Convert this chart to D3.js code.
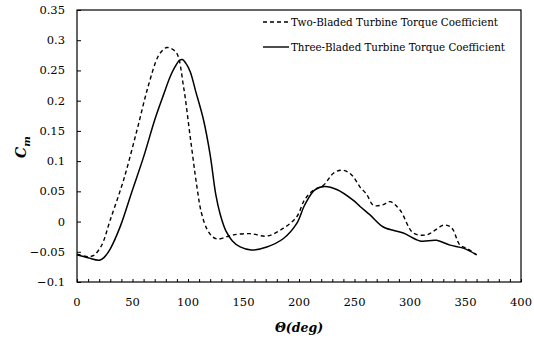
<!DOCTYPE html>
<meta charset="utf-8">
<title>Torque coefficient</title>
<style>
  body { margin: 0; background: #fff; }
  svg text { font-family: "DejaVu Serif", serif; fill: #000; }
</style>
<body>
<script src="https://d3js.org/d3.v7.min.js"></script>
<script>
// azimuth angle (deg) and Cm
const twoTheta = [0, 10, 15, 22, 30, 42, 54, 64, 73, 78, 81, 85, 90, 96, 102, 108, 112, 117, 122, 127, 135, 141, 156, 171, 186, 198, 205, 213, 222, 231, 238, 244, 249, 255, 261, 267, 276, 282, 291, 303, 315, 322, 330, 336, 339, 345, 352, 360];
const twoCm    = [-0.054, -0.058, -0.056, -0.04, 0.003, 0.069, 0.151, 0.223, 0.273, 0.285, 0.288, 0.286, 0.278, 0.223, 0.14, 0.058, 0.015, -0.012, -0.025, -0.029, -0.025, -0.022, -0.02, -0.024, -0.011, 0.008, 0.036, 0.052, 0.06, 0.08, 0.085, 0.082, 0.074, 0.057, 0.045, 0.027, 0.028, 0.033, 0.019, -0.019, -0.022, -0.015, -0.006, -0.008, -0.014, -0.039, -0.045, -0.055];

const threeTheta = [0, 10, 20, 24, 30, 39, 49, 60, 70, 78, 84, 88, 92, 95, 98, 102, 107, 114, 120, 125, 129, 134, 140, 147, 157, 171, 186, 198, 205, 214, 223, 234, 249, 255, 264, 276, 294, 309, 324, 336, 348, 360];
const threeCm    = [-0.055, -0.06, -0.064, -0.06, -0.045, -0.008, 0.047, 0.107, 0.168, 0.21, 0.24, 0.255, 0.266, 0.268, 0.262, 0.248, 0.215, 0.168, 0.11, 0.045, 0.012, -0.015, -0.032, -0.042, -0.047, -0.042, -0.028, -0.003, 0.027, 0.052, 0.058, 0.053, 0.035, 0.025, 0.011, -0.009, -0.019, -0.032, -0.031, -0.039, -0.044, -0.055];

const xTicks = [0, 50, 100, 150, 200, 250, 300, 350, 400];
const yTicks = [-0.1, -0.05, 0, 0.05, 0.1, 0.15, 0.2, 0.25, 0.3, 0.35];

const W = 534, H = 338;
const m = {left: 77, right: 13, top: 10, bottom: 56};

const svg = d3.select("body").append("svg")
    .attr("width", W).attr("height", H);

const x = d3.scaleLinear().domain([0, 400]).range([m.left, W - m.right]);
const y = d3.scaleLinear().domain([-0.1, 0.35]).range([H - m.bottom, m.top]);

// frame
svg.append("rect")
    .attr("x", x(0)).attr("y", y(0.35))
    .attr("width", x(400) - x(0)).attr("height", y(-0.1) - y(0.35))
    .attr("fill", "none").attr("stroke", "#000").attr("stroke-width", 1.2);

// x axis, minor ticks every 10 deg pointing up
const xAxis = d3.axisBottom(x).tickValues(d3.range(0, 401, 10))
    .tickSize(-3).tickFormat("");
svg.append("g").attr("transform", `translate(0,${y(-0.1)})`).call(xAxis)
  .call(g => g.select(".domain").remove())
  .call(g => g.selectAll("line").attr("stroke", "#000"));

svg.append("g").selectAll("text").data(xTicks).join("text")
    .attr("x", d => x(d)).attr("y", y(-0.1) + 24)
    .attr("text-anchor", "middle").attr("font-size", 11.5)
    .text(d => d);

// y axis, ticks inward
const yAxis = d3.axisLeft(y).tickValues(yTicks).tickSize(-4).tickFormat("");
svg.append("g").attr("transform", `translate(${x(0)},0)`).call(yAxis)
  .call(g => g.select(".domain").remove())
  .call(g => g.selectAll("line").attr("stroke", "#000"));

svg.append("g").selectAll("text").data(yTicks).join("text")
    .attr("x", x(0) - 12).attr("y", d => y(d) + 4)
    .attr("text-anchor", "end").attr("font-size", 11.5)
    .text(d => d3.format("")(+d.toFixed(2)));

// curves
const line = d3.line().x(d => x(d[0])).y(d => y(d[1])).curve(d3.curveCatmullRom.alpha(0.5));

svg.append("path")
    .datum(threeTheta.map((t, i) => [t, threeCm[i]]))
    .attr("d", line).attr("fill", "none")
    .attr("stroke", "#000").attr("stroke-width", 1.5);

svg.append("path")
    .datum(twoTheta.map((t, i) => [t, twoCm[i]]))
    .attr("d", line).attr("fill", "none")
    .attr("stroke", "#000").attr("stroke-width", 1.4)
    .attr("stroke-dasharray", "4,3");

// legend
const leg = svg.append("g");
const legItems = [
  {label: "Two-Bladed Turbine Torque Coefficient", dash: "4,3", yy: 22, w: 207},
  {label: "Three-Bladed Turbine Torque Coefficient", dash: null, yy: 47, w: 214}
];
legItems.forEach(it => {
  leg.append("line").attr("x1", 263).attr("x2", 289).attr("y1", it.yy).attr("y2", it.yy)
    .attr("stroke", "#000").attr("stroke-width", 1.4)
    .attr("stroke-dasharray", it.dash);
  leg.append("text").attr("x", 291).attr("y", it.yy + 4)
    .attr("font-size", 11.5)
    .attr("textLength", it.w).attr("lengthAdjust", "spacingAndGlyphs")
    .text(it.label);
});

// axis titles
svg.append("text")
    .attr("x", 299).attr("y", 332)
    .attr("text-anchor", "middle").attr("font-size", 12.5)
    .attr("font-weight", "bold").attr("font-style", "italic")
    .text("Θ(deg)");

const yt = svg.append("text")
    .attr("transform", "translate(26,147) rotate(-90)")
    .attr("text-anchor", "middle").attr("font-size", 14)
    .attr("font-weight", "bold").attr("font-style", "italic");
yt.append("tspan").text("C");
yt.append("tspan").attr("font-size", 10).attr("dy", 4).text("m");
</script>
